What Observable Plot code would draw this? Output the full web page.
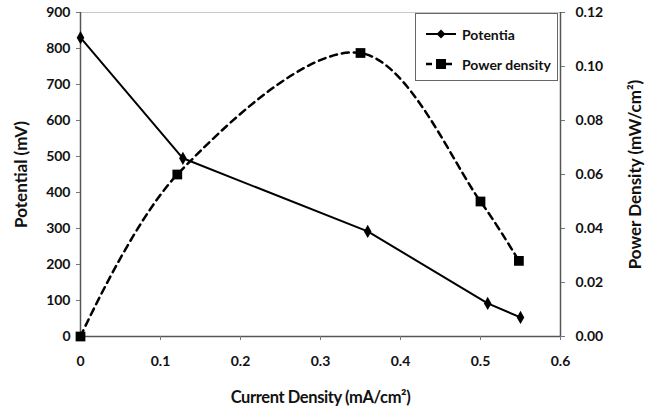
<!DOCTYPE html>
<html>
<head>
<meta charset="utf-8">
<script src="https://cdn.jsdelivr.net/npm/d3@7"></script>
<script src="https://cdn.jsdelivr.net/npm/@observablehq/plot@0.6"></script>
<style>
  body { margin: 0; background: #fff; }
  #wrap { position: relative; width: 648px; height: 413px; }
  #wrap svg g[aria-label="y-axis label"] text,
  #wrap svg g[aria-label="y-axis label"] { font-size: 17px; }
  #wrap svg g[aria-label="x-axis label"] text,
  #wrap svg g[aria-label="x-axis label"] { font-size: 16.5px; letter-spacing: -0.4px; }
  #legend { position: absolute; left: 415px; top: 13px; width: 143px; height: 68px;
    border: 1.5px solid #666; background: #fff; box-sizing: border-box;
    font-family: Lato, "Open Sans", sans-serif; font-weight: bold; font-size: 14px; color: #111; }
  #legend .row { position: absolute; left: 10px; height: 20px; display: flex; align-items: center; }
  #legend svg { margin-right: 6px; }
</style>
</head>
<body>
<div id="wrap"></div>
<script>
// Current density (mA/cm2)
const potentialX = [0, 0.128, 0.359, 0.509, 0.55];
const potentialY = [830, 495, 292, 92, 53];            // mV
const powerX = [0, 0.121, 0.35, 0.5, 0.548];
const powerY = [0, 0.060, 0.105, 0.050, 0.028];        // mW/cm2
const xTicks = [0, 0.1, 0.2, 0.3, 0.4, 0.5, 0.6];
const leftTicks = [0, 100, 200, 300, 400, 500, 600, 700, 800, 900];
const rightTicks = [0, 0.02, 0.04, 0.06, 0.08, 0.10, 0.12];
const legendLabels = ["Potentia", "Power density"];

const k = 900 / 0.12; // power -> potential scale factor
const potential = potentialX.map((x, i) => ({x, y: potentialY[i]}));
const power = powerX.map((x, i) => ({x, y: powerY[i] * k}));

const font = "Lato, 'Open Sans', sans-serif";

const chart = Plot.plot({
  width: 648,
  height: 413,
  marginLeft: 80,
  marginRight: 88,
  marginTop: 12,
  marginBottom: 77,
  style: {fontFamily: font, fontWeight: "bold", fontSize: "14px", color: "#111", background: "#fff"},
  x: {domain: [0, 0.6]},
  y: {domain: [0, 900]},
  marks: [
    Plot.frame({stroke: "#c8c8c8"}),
    Plot.ruleX([0], {stroke: "#555", strokeWidth: 1.5}),
    Plot.ruleX([0.6], {stroke: "#555", strokeWidth: 1.5}),
    Plot.ruleY([0], {stroke: "#555", strokeWidth: 1.5}),
    Plot.axisY({ticks: leftTicks, tickSize: 4, tickPadding: 6, stroke: "#777",
      label: "Potential (mV)", labelAnchor: "center", labelArrow: "none", labelOffset: 66,
      fontSize: 14}),
    Plot.axisY({anchor: "right", ticks: rightTicks.map(v => v * k), tickSize: 4, tickPadding: 11,
      stroke: "#777", tickFormat: d => (d / k).toFixed(2),
      label: "Power Density (mW/cm²)", labelAnchor: "center", labelArrow: "none", labelOffset: 80}),
    Plot.axisX({ticks: xTicks, tickSize: 4, tickPadding: 16, stroke: "#777",
      tickFormat: d => d === 0 ? "0" : d.toFixed(1),
      label: "Current Density (mA/cm²)", labelAnchor: "center", labelArrow: "none", labelOffset: 66}),
    Plot.line(power, {x: "x", y: "y", curve: "catmull-rom", stroke: "#000", strokeWidth: 2.5, strokeDasharray: "7,5"}),
    Plot.line(potential, {x: "x", y: "y", stroke: "#000", strokeWidth: 2}),
    Plot.dot(power, {x: "x", y: "y", symbol: "square", r: 5.5, fill: "#000"}),
    Plot.dot(potential, {x: "x", y: "y", symbol: "diamond", r: 4, fill: "#000"})
  ]
});

const wrap = document.getElementById("wrap");
wrap.appendChild(chart);

const legend = document.createElement("div");
legend.id = "legend";
legend.innerHTML = `
  <div class="row" style="top:10px">
    <svg width="30" height="12"><line x1="0" y1="6" x2="30" y2="6" stroke="#000" stroke-width="2"/>
      <path d="M15,1.5L19.5,6L15,10.5L10.5,6Z" fill="#000"/></svg>
    <span>${legendLabels[0]}</span></div>
  <div class="row" style="top:40px">
    <svg width="30" height="12"><line x1="0" y1="6" x2="30" y2="6" stroke="#000" stroke-width="2.5" stroke-dasharray="6,4"/>
      <rect x="10" y="1" width="10" height="10" fill="#000"/></svg>
    <span>${legendLabels[1]}</span></div>`;
wrap.appendChild(legend);
</script>
</body>
</html>
